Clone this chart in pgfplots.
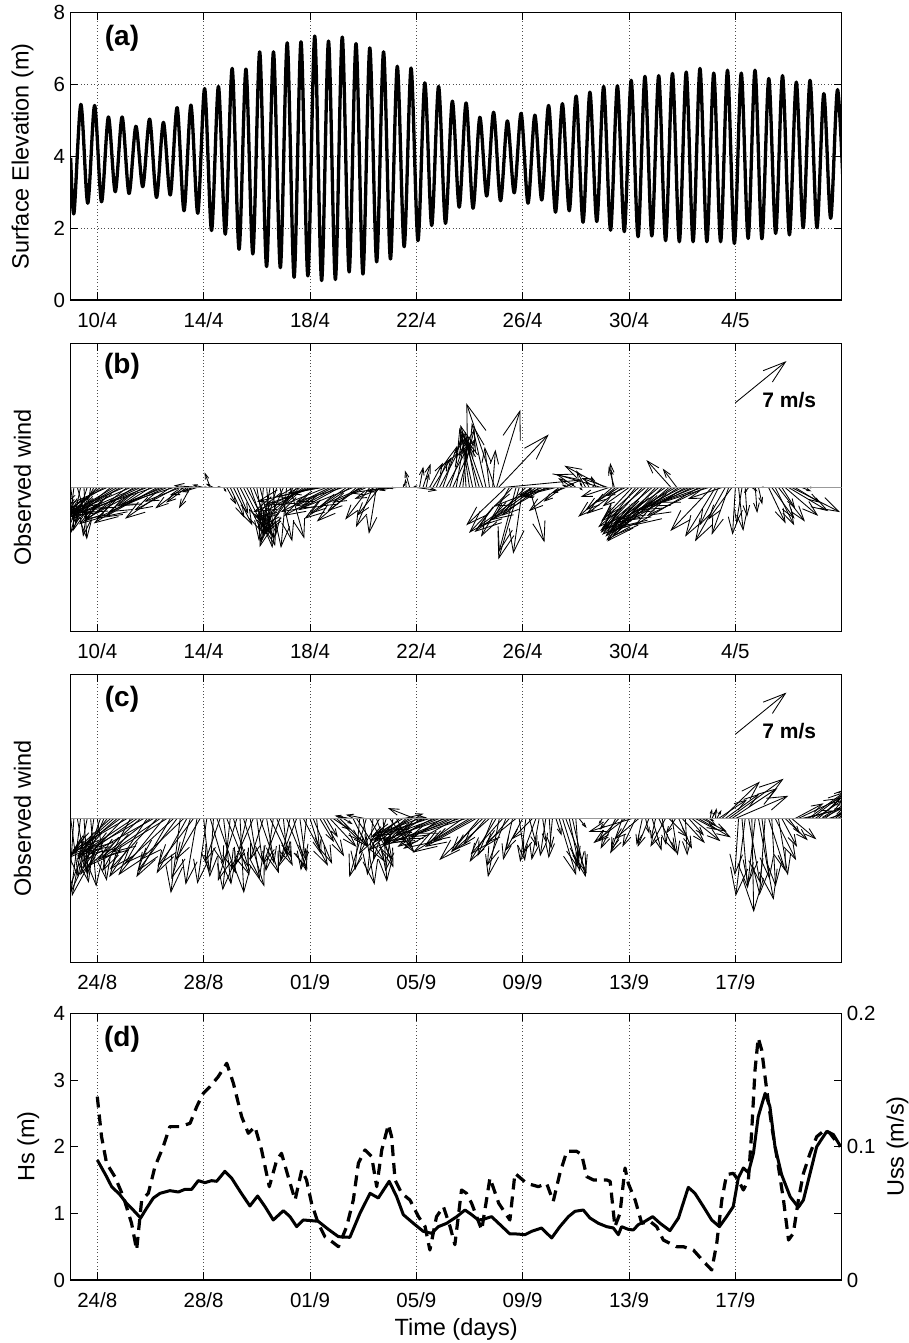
\documentclass[border=0pt]{standalone}
\usepackage{fontspec}
\setmainfont{Liberation Sans}
\usepackage{pgfplots}
\pgfplotsset{compat=1.18}
\usepackage{pgfplotstable}
\usetikzlibrary{arrows.meta}

\pgfplotsset{
  panel/.style={
    scale only axis, width=771pt,
    axis line style={line width=1.2pt},
    every tick/.style={black, line width=0.9pt},
    major tick length=7.5pt,
    tick align=inside, tick pos=both,
    xmajorgrids,
    grid style={black!70, line width=0.75pt, dash pattern=on 0.75pt off 2.6pt},
    tick label style={font=\fontsize{20.5pt}{24pt}\selectfont},
    label style={font=\fontsize{23.5pt}{28pt}\selectfont},
    xticklabel style={anchor=north, inner sep=0pt, yshift=-12pt},
  },
  leftticks/.style={yticklabel style={anchor=east, inner sep=0pt, xshift=-5.5pt}},
  aprilx/.style={xmin=9, xmax=38, xtick={10,14,18,22,26,30,34},
    xticklabels={10/4,14/4,18/4,22/4,26/4,30/4,4/5}},
  augx/.style={xmin=23, xmax=52, xtick={24,28,32,36,40,44,48},
    xticklabels={24/8,28/8,01/9,05/9,09/9,13/9,17/9}},
  windy/.style={ymin=-15.23, ymax=15.23, ytick=\empty,
    point meta min=0, point meta max=10},
  feather/.style={
    black, line width=0.85pt,
    point meta={veclen(\thisrow{u},\thisrow{v})},
    quiver={u={0.356*(\thisrow{u})}, v={\thisrow{v}},
      every arrow/.append style={-{Straight Barb[length={0.0327pt*\pgfplotspointmetatransformed}, width={0.021pt*\pgfplotspointmetatransformed}]}}},
  },
}
\tikzset{panellabel/.style={font=\bfseries\fontsize{28pt}{30pt}\selectfont, inner sep=0pt}}

\begin{document}

% tide: successive high and low waters (day of April, m)
\pgfplotstableread{
t z
9.000 3.95
9.123 2.41
9.382 5.44
9.641 2.69
9.899 5.41
10.158 2.73
10.417 5.09
10.676 3.01
10.934 5.09
11.193 2.96
11.452 4.83
11.711 3.15
11.969 5.03
12.228 2.85
12.487 4.94
12.746 2.92
13.004 5.35
13.263 2.48
13.522 5.42
13.781 2.41
14.039 5.88
14.298 1.93
14.557 5.94
14.816 1.83
15.074 6.44
15.333 1.41
15.592 6.42
15.851 1.28
16.109 6.90
16.368 0.93
16.627 6.90
16.886 0.90
17.144 7.15
17.403 0.63
17.662 7.18
17.921 0.67
18.179 7.34
18.438 0.54
18.697 7.20
18.956 0.57
19.214 7.31
19.473 0.78
19.732 7.13
19.991 0.72
20.249 7.01
20.508 1.06
20.767 6.90
21.026 1.14
21.284 6.50
21.543 1.48
21.802 6.45
22.061 1.65
22.319 6.04
22.578 2.07
22.837 5.94
23.096 2.13
23.354 5.53
23.613 2.58
23.872 5.48
24.131 2.55
24.389 5.08
24.648 2.89
24.907 5.22
25.166 2.76
25.424 4.98
25.683 2.98
25.942 5.19
26.201 2.69
26.459 5.14
26.718 2.78
26.977 5.41
27.236 2.44
27.494 5.46
27.753 2.48
28.012 5.67
28.271 2.16
28.529 5.78
28.788 2.18
29.047 5.94
29.306 1.94
29.564 5.96
29.823 1.90
30.082 6.11
30.341 1.76
30.599 6.22
30.858 1.78
31.117 6.24
31.376 1.65
31.634 6.30
31.893 1.62
32.152 6.34
32.411 1.62
32.669 6.44
32.928 1.62
33.187 6.31
33.446 1.62
33.704 6.39
33.963 1.57
34.222 6.31
34.481 1.71
34.739 6.39
34.998 1.70
35.257 6.16
35.516 1.85
35.774 6.24
36.033 1.81
36.292 6.06
36.551 2.01
36.809 6.11
37.068 2.01
37.327 5.74
37.586 2.27
37.844 5.85
38.103 2.30
}\tide

% wind, April (day, east and north components in m/s)
\pgfplotstableread{
t u v
9.00 0.5 -3.8
9.12 -0.5 -4.2
9.25 1.0 -3.5
9.37 -1.0 -4.8
9.50 0.3 -5.5
9.62 -1.5 -4.6
9.75 -0.8 -5.2
9.87 -2.0 -3.8
10.00 -3.0 -3.0
10.12 -3.5 -2.5
10.25 -4.5 -2.8
10.37 -5.0 -2.2
10.50 -4.2 -3.4
10.62 -5.0 -3.0
10.75 -3.8 -2.2
10.87 -5.5 -3.2
11.00 -6.0 -2.6
11.12 -4.5 -3.6
11.25 -6.5 -2.8
11.37 -5.8 -3.9
11.50 -6.8 -3.0
11.62 -5.2 -2.4
11.75 -6.3 -3.4
11.87 -7.0 -2.7
12.00 -6.0 -3.8
12.12 -6.6 -2.2
12.25 -5.5 -3.1
12.37 -6.8 -3.3
12.50 -5.0 -2.0
12.62 -6.2 -2.6
12.75 -4.8 -3.3
12.87 -5.6 -1.8
13.00 -4.5 -2.4
13.12 -3.8 -1.5
13.25 -3.0 -2.2
13.37 -2.2 -1.6
13.50 -1.2 -2.2
13.62 -2.5 -0.8
13.75 -1.6 -0.5
13.87 -2.8 0.2
14.00 -1.2 0.3
14.12 -0.3 0.1
14.25 -0.6 1.6
14.37 -0.8 0.4
14.50 0.4 0.1
14.62 0.1 0.0
14.75 0.3 -0.5
14.87 1.0 -1.8
15.00 1.5 -3.2
15.12 2.0 -4.0
15.25 1.2 -2.8
15.37 2.4 -4.8
15.50 1.8 -3.6
15.62 2.6 -5.0
15.75 1.5 -4.2
15.87 2.2 -5.4
16.00 0.8 -4.6
16.12 1.6 -6.2
16.25 -0.5 -5.6
16.37 0.6 -6.4
16.50 -1.0 -5.9
16.62 0.3 -5.0
16.75 -1.8 -6.3
16.87 1.3 -5.7
17.00 -2.2 -5.2
17.12 -0.6 -6.4
17.25 1.5 -5.4
17.37 -2.8 -4.6
17.50 -3.5 -5.0
17.62 -4.2 -4.2
17.75 -4.8 -3.6
17.87 -5.5 -3.2
18.00 -6.0 -2.6
18.12 -5.2 -1.9
18.25 -6.3 -1.5
18.37 -4.6 -1.0
18.50 -3.8 -0.6
18.62 -4.5 -1.8
18.75 -5.2 -2.6
18.87 -4.0 -2.0
19.00 -5.6 -3.0
19.12 -4.4 -2.4
19.25 -5.0 -1.5
19.37 -3.9 -2.8
19.50 -4.8 -3.3
19.62 -5.5 -2.2
19.75 -4.2 -3.6
19.87 -3.4 -2.5
20.00 -4.6 -2.0
20.12 -3.6 -1.6
20.25 -2.6 -3.4
20.37 -1.8 -4.2
20.50 -0.8 -4.9
20.62 -2.4 -3.0
20.75 -3.0 -1.2
20.87 -3.8 -0.6
21.00 -2.5 -0.4
21.12 -1.5 -0.3
21.25 -0.8 -0.1
21.50 0.2 0.5
21.62 -0.1 0.9
21.75 -0.5 1.8
21.87 0.5 0.2
22.00 2.2 -0.3
22.12 0.4 2.2
22.25 0.8 2.5
22.37 0.3 1.5
22.50 1.4 2.6
22.62 2.0 3.2
22.75 1.2 3.0
22.87 2.0 3.8
23.00 1.5 4.4
23.12 2.6 4.8
23.25 1.8 5.4
23.37 2.4 5.2
23.50 1.0 5.9
23.62 1.6 6.2
23.75 0.5 5.6
23.87 -0.4 6.0
24.00 -0.8 5.4
24.12 -1.4 6.3
24.25 -1.0 5.0
24.37 -2.0 6.6
24.50 -1.8 5.2
24.62 -1.5 6.8
24.75 -0.5 4.3
24.87 0.3 4.0
24.95 -3.0 8.9
25.02 2.5 8.2
25.09 5.3 5.6
25.25 8.4 0.8
25.37 -4.2 -4.0
25.50 -3.0 -5.2
25.62 -4.6 -4.8
25.75 -1.8 -6.8
25.87 -2.2 -7.6
26.00 -1.0 -7.0
26.12 -3.5 -3.4
26.25 1.6 -5.8
26.37 -5.8 -4.2
26.50 -6.5 -4.7
26.62 -4.0 -3.0
26.75 -5.2 -2.0
26.87 -6.0 -3.5
27.00 -2.8 -1.0
27.12 -3.6 -0.8
27.25 -4.0 -1.0
27.37 -3.2 -2.5
27.50 -2.0 -1.5
27.62 -1.5 -0.6
27.75 -0.8 0.3
27.87 -1.5 1.0
28.00 -0.6 0.5
28.12 0.4 -0.3
28.25 -0.3 0.6
28.37 -1.0 1.8
28.50 -0.4 0.8
28.62 0.3 0.4
28.75 -0.5 1.2
28.95 -4.8 1.4
29.10 -4.3 2.3
29.20 -2.8 1.0
29.25 -3.0 -1.0
29.37 -3.6 -3.1
29.40 -0.3 2.6
29.45 -0.6 2.2
29.50 -3.2 -2.4
29.62 -2.5 -1.6
29.75 -3.8 -2.8
29.87 -2.0 -0.9
30.00 -2.8 -2.0
30.12 -3.0 -3.2
30.25 -3.4 -4.3
30.37 -4.0 -3.6
30.50 -4.4 -4.8
30.62 -5.0 -4.2
30.75 -4.6 -5.2
30.87 -5.5 -4.6
31.00 -5.2 -5.6
31.12 -6.0 -5.0
31.25 -5.8 -5.7
31.37 -6.4 -4.4
31.50 -6.0 -5.2
31.58 -2.6 2.9
31.62 -6.8 -4.8
31.75 -6.5 -3.8
31.80 -1.5 2.0
31.87 -7.2 -4.6
32.00 -6.6 -3.4
32.12 -7.0 -4.2
32.25 -6.2 -2.8
32.37 -7.4 -3.6
32.50 -6.0 -2.4
32.62 -6.8 -4.0
32.75 -5.6 -2.0
32.87 -6.2 -3.0
33.00 -5.0 -1.6
33.12 -4.4 -4.6
33.25 -3.2 -5.2
33.37 -2.0 -4.0
33.50 -3.6 -1.2
33.62 -3.2 -5.7
33.75 -1.8 -5.0
33.87 -2.5 -3.4
34.00 -0.3 -5.0
34.12 0.5 -4.6
34.25 -0.6 -3.8
34.37 0.2 -3.1
34.50 -0.5 -0.6
34.62 0.6 -0.4
34.75 0.2 -2.7
34.87 0.4 -1.8
35.00 0.2 0.1
35.25 1.8 -3.8
35.37 2.4 -3.3
35.50 2.0 -4.0
35.62 2.8 -3.6
35.75 1.4 -2.2
35.87 3.5 -3.0
36.00 4.2 -2.5
36.12 5.1 -2.6
36.25 2.6 -1.6
36.50 1.0 -0.4
36.75 0.5 0.0
}\windApr

% wind, August--September (day counted from 1 August, m/s)
\pgfplotstableread{
t u v
23.00 0.8 -6.2
23.12 -0.5 -7.5
23.25 1.2 -6.8
23.37 -1.0 -7.8
23.50 0.4 -6.0
23.62 -1.6 -8.2
23.75 0.6 -7.2
23.87 -0.8 -5.6
24.00 1.0 -6.6
24.12 -1.8 -5.2
24.25 -2.5 -6.0
24.37 -3.2 -4.4
24.50 -4.0 -3.6
24.62 -4.8 -4.2
24.75 -3.5 -3.0
24.87 -5.2 -3.8
25.00 -4.4 -4.6
25.12 -5.8 -3.4
25.25 -3.0 -5.6
25.37 -6.0 -4.0
25.50 -4.6 -3.2
25.62 -5.4 -5.0
25.75 -6.4 -3.6
25.87 -4.0 -6.2
26.00 -5.6 -4.4
26.12 -6.8 -3.8
26.25 -5.0 -5.4
26.37 -6.2 -4.2
26.50 -4.8 -6.0
26.62 -5.8 -3.6
26.75 -3.6 -6.2
26.87 -5.2 -4.8
27.00 -4.2 -5.6
27.12 -1.0 -7.9
27.25 -4.6 -4.4
27.37 -3.2 -5.8
27.50 -2.0 -6.4
27.62 -3.8 -5.0
27.75 -1.2 -7.0
27.87 -2.6 -4.4
28.00 0.6 -5.6
28.12 -1.0 -6.9
28.25 1.4 -4.8
28.37 -0.4 -6.2
28.50 2.0 -5.8
28.62 -1.6 -4.6
28.75 0.8 -7.0
28.87 2.4 -6.0
29.00 -0.8 -7.6
29.12 1.6 -5.2
29.25 -2.0 -6.6
29.37 0.4 -7.9
29.50 2.2 -7.2
29.62 -1.2 -5.0
29.75 1.0 -6.4
29.87 -2.4 -5.4
30.00 0.6 -4.6
30.12 2.0 -5.8
30.25 -1.4 -4.4
30.37 0.8 -4.8
30.50 2.4 -5.0
30.62 -0.8 -5.6
30.75 1.6 -4.2
30.87 -1.8 -4.9
31.00 0.4 -4.0
31.12 2.2 -5.4
31.25 -1.0 -4.6
31.37 1.4 -5.6
31.50 -2.0 -5.2
31.62 0.6 -4.4
31.75 2.6 -5.0
31.87 -0.6 -5.5
32.00 1.2 -3.8
32.12 2.0 -4.8
32.25 0.3 -3.2
32.37 1.5 -2.5
32.50 2.2 -4.0
32.62 1.2 -2.0
32.75 2.8 -3.0
32.87 1.8 -1.2
33.00 2.5 -2.4
33.12 3.0 -3.0
33.25 1.0 -0.6
33.37 -0.8 0.2
33.50 -1.6 0.3
33.62 1.5 -3.0
33.75 3.0 -4.6
33.87 -0.5 -5.5
34.00 1.2 -7.0
34.06 -2.0 0.4
34.12 -1.8 -6.2
34.25 2.4 -4.4
34.37 -0.6 -6.0
34.50 1.8 -5.2
34.62 -2.2 -3.8
34.75 0.4 -6.7
34.87 -1.4 -4.4
35.00 2.6 -3.6
35.12 -0.8 -5.6
35.25 1.6 -3.0
35.37 -2.8 -2.6
35.40 2.8 0.1
35.50 -3.4 -2.0
35.56 2.0 0.5
35.62 -4.0 -3.4
35.75 -2.8 -1.6
35.87 -4.6 -2.4
35.93 -2.8 1.1
36.00 -3.6 -3.0
36.12 -5.0 -1.8
36.25 -4.2 -2.6
36.37 -5.6 -2.2
36.50 -3.8 -1.2
36.62 -5.2 -2.8
36.75 -4.4 -1.6
36.87 -6.0 -2.4
37.00 -4.8 -3.0
37.12 -5.4 -1.8
37.25 -6.2 -2.6
37.37 -4.6 -2.0
37.50 -5.6 -3.2
37.62 -6.4 -2.2
37.75 -4.0 -2.8
37.87 -5.0 -1.6
38.00 -6.0 -3.6
38.12 -4.2 -2.4
38.25 -5.4 -3.0
38.37 -3.0 -3.6
38.50 -4.6 -4.4
38.62 -2.4 -2.8
38.75 -3.8 -3.4
38.87 -1.6 -4.0
39.00 -2.8 -4.6
39.12 -1.2 -6.2
39.25 -3.4 -3.8
39.37 -2.0 -5.0
39.50 -2.6 -3.0
39.62 -1.0 -4.4
39.75 -3.2 -2.6
39.87 0.6 -4.5
40.00 -1.8 -3.4
40.12 -0.6 -4.6
40.25 0.8 -3.0
40.37 -2.2 -2.2
40.50 -1.4 -3.8
40.62 -0.8 -4.4
40.75 0.4 -2.6
40.87 -0.6 -4.0
41.00 0.2 -3.2
41.12 -0.4 -4.2
41.25 0.6 -1.8
41.37 1.8 -6.0
41.50 1.6 -5.2
41.62 2.2 -5.8
41.75 1.0 -4.8
41.87 1.4 -6.2
42.00 0.4 -5.6
42.12 0.8 -1.0
43.00 -0.4 -0.6
43.25 -1.0 -1.2
43.50 -1.6 -3.2
43.62 -2.2 -2.4
43.75 -1.2 -3.4
43.87 -3.4 -2.6
44.00 -2.0 -3.7
44.12 -4.6 -1.4
44.25 -1.4 -3.0
44.37 -2.6 -2.2
44.50 -0.6 -2.8
44.62 0.4 -1.6
44.75 -1.2 -3.0
44.87 1.0 -3.4
45.00 -0.5 -2.2
45.12 1.8 -3.6
45.25 0.4 -2.8
45.37 -1.6 -3.0
45.50 2.0 -2.0
45.62 0.6 -3.9
45.75 -1.0 -1.6
45.87 1.4 -3.2
46.00 2.4 -2.6
46.12 0.2 -3.9
46.25 1.6 -1.8
46.37 3.0 -2.4
46.50 2.2 -1.2
46.62 3.4 -2.0
46.75 2.6 -1.4
46.87 1.2 -0.8
47.00 0.6 -0.3
47.05 0.2 1.0
47.12 0.4 0.8
47.25 0.1 1.1
47.30 0.5 0.9
47.37 3.0 2.0
47.50 4.0 3.9
47.62 3.6 2.6
47.75 5.8 4.2
47.87 4.8 3.2
48.00 5.6 2.4
48.12 -0.4 -6.0
48.25 0.6 -7.4
48.37 -1.0 -8.2
48.50 1.2 -6.8
48.62 0.2 -9.9
48.75 -0.8 -7.0
48.87 1.6 -8.6
49.00 0.8 -6.4
49.12 -0.6 -8.1
49.25 1.8 -5.6
49.37 0.4 -7.2
49.50 2.2 -4.4
49.62 1.0 -6.0
49.75 1.6 -3.0
49.87 2.4 -2.3
50.00 1.2 -1.6
50.12 2.6 -2.2
50.25 3.0 1.6
50.37 4.6 2.2
50.50 3.4 0.8
50.62 5.2 1.4
50.75 3.8 2.8
50.87 4.4 3.4
51.00 3.0 2.0
51.12 4.0 3.6
51.25 2.4 1.2
51.37 3.2 2.4
51.50 2.0 0.6
51.62 3.6 2.2
51.75 2.2 1.6
51.87 3.0 2.8
}\windAug

% 7 m/s reference arrows
\pgfplotstableread{
t y u v
34 8.95 5.4 4.4
}\keyApr
\pgfplotstableread{
t y u v
48 8.90 5.4 4.4
}\keyAug

% significant wave height (m)
\pgfplotstableread{
t hs
24.00 1.80
24.35 1.55
24.54 1.40
24.85 1.28
25.10 1.15
25.35 1.05
25.63 0.93
25.86 1.08
26.11 1.23
26.36 1.30
26.73 1.34
27.05 1.32
27.30 1.36
27.55 1.36
27.80 1.49
28.05 1.46
28.30 1.49
28.49 1.48
28.80 1.63
29.05 1.53
29.37 1.33
29.74 1.11
30.03 1.26
30.31 1.10
30.62 0.90
31.00 1.04
31.25 0.95
31.50 0.80
31.75 0.90
32.06 0.89
32.31 0.88
32.69 0.76
33.07 0.65
33.50 0.64
33.88 1.00
34.26 1.30
34.57 1.23
34.98 1.48
35.26 1.25
35.51 0.98
35.89 0.85
36.26 0.73
36.58 0.70
36.83 0.80
37.14 0.85
37.52 0.95
37.83 1.05
38.08 0.98
38.33 0.90
38.52 0.91
38.83 0.95
39.15 0.83
39.52 0.69
39.77 0.69
40.09 0.68
40.34 0.73
40.71 0.78
41.09 0.63
41.40 0.80
41.72 0.95
41.97 1.03
42.28 1.05
42.53 0.93
42.85 0.85
43.16 0.80
43.41 0.78
43.60 0.68
43.72 0.80
43.97 0.76
44.16 0.75
44.35 0.83
44.60 0.88
44.89 0.95
45.17 0.85
45.54 0.74
45.86 0.93
46.23 1.39
46.48 1.30
46.80 1.10
47.11 0.90
47.40 0.80
47.67 0.95
47.92 1.10
48.11 1.53
48.30 1.68
48.49 1.61
48.68 1.90
48.86 2.45
49.12 2.80
49.30 2.60
49.49 2.00
49.74 1.58
50.06 1.25
50.37 1.09
50.56 1.20
50.81 1.60
51.06 2.00
51.44 2.23
51.69 2.18
51.96 2.00
}\hs

% surface Stokes drift (m/s)
\pgfplotstableread{
t uss
24.00 0.1375
24.16 0.1075
24.35 0.0875
24.66 0.0775
24.98 0.0625
25.29 0.0425
25.48 0.0225
25.67 0.0600
25.92 0.0650
26.17 0.0850
26.48 0.1000
26.73 0.1150
27.11 0.1150
27.49 0.1175
27.74 0.1300
27.99 0.1400
28.24 0.1450
28.55 0.1525
28.87 0.1625
29.12 0.1475
29.43 0.1225
29.68 0.1100
29.93 0.1150
30.18 0.0975
30.47 0.0700
30.75 0.0900
30.93 0.0950
31.18 0.0775
31.44 0.0600
31.69 0.0825
31.87 0.0750
32.06 0.0575
32.31 0.0425
32.56 0.0325
32.81 0.0290
33.07 0.0250
33.38 0.0400
33.63 0.0600
33.82 0.0875
34.07 0.0975
34.32 0.0925
34.51 0.0700
34.70 0.0975
34.95 0.1165
35.07 0.1075
35.20 0.0750
35.45 0.0650
35.76 0.0600
36.08 0.0475
36.33 0.0400
36.51 0.0225
36.76 0.0475
37.02 0.0550
37.27 0.0400
37.45 0.0265
37.70 0.0675
37.89 0.0650
38.08 0.0575
38.46 0.0375
38.77 0.0765
39.10 0.0575
39.52 0.0450
39.71 0.0800
40.15 0.0725
40.59 0.0700
40.90 0.0725
41.15 0.0590
41.40 0.0800
41.66 0.0965
42.03 0.0965
42.22 0.0940
42.41 0.0775
42.66 0.0750
43.16 0.0750
43.29 0.0740
43.47 0.0400
43.66 0.0500
43.85 0.0840
43.97 0.0725
44.23 0.0600
44.48 0.0425
44.79 0.0440
45.04 0.0400
45.29 0.0300
45.79 0.0250
46.04 0.0250
46.42 0.0225
46.80 0.0140
47.11 0.0075
47.30 0.0275
47.49 0.0600
47.67 0.0790
47.92 0.0800
48.11 0.0750
48.30 0.0675
48.49 0.0750
48.61 0.1100
48.74 0.1575
48.86 0.1815
48.99 0.1725
49.18 0.1425
49.37 0.1150
49.62 0.0850
49.81 0.0600
50.00 0.0300
50.18 0.0350
50.37 0.0600
50.56 0.0800
50.81 0.0950
51.06 0.1075
51.37 0.1125
51.56 0.1100
51.75 0.1050
51.94 0.1000
}\uss

\begin{tikzpicture}[x=1pt,y=1pt]
\useasboundingbox (0,0) rectangle (909,1343);

% (a) surface elevation
\begin{axis}[panel, aprilx, leftticks,
  at={(70.7pt,1043pt)}, anchor=south west, height=287.7pt,
  ymin=0, ymax=8, ytick={0,2,4,6,8}, yticklabels={0,2,4,6,8},
  ymajorgrids,
  ylabel={Surface Elevation (m)},
  ylabel style={at={(axis description cs:-0.0623,0.5)}, anchor=center},
]
\addplot[black, line width=3.3pt, smooth, line join=round] table[x=t, y=z] {\tide};
\node[panellabel] at (rel axis cs:0.0665,0.909) {(a)};
\end{axis}

% (b) wind, April
\begin{axis}[panel, aprilx, windy,
  at={(70.7pt,711.3pt)}, anchor=south west, height=288.4pt,
  ylabel={Observed wind},
  ylabel style={at={(axis description cs:-0.0625,0.5)}, anchor=center},
]
\addplot[feather] table[x=t, y expr=0] {\windApr};
\addplot[black!40, line width=0.9pt] coordinates {(9,0) (38,0)};
\addplot[feather] table[x=t, y=y] {\keyApr};
\node[font=\bfseries\fontsize{21pt}{24pt}\selectfont] at (axis cs:36.03,9.24) {7 m/s};
\node[panellabel] at (rel axis cs:0.0665,0.919) {(b)};
\end{axis}

% (c) wind, August--September
\begin{axis}[panel, augx, windy,
  at={(70.7pt,380.3pt)}, anchor=south west, height=288.4pt,
  ylabel={Observed wind},
  ylabel style={at={(axis description cs:-0.0625,0.5)}, anchor=center},
]
\addplot[feather] table[x=t, y expr=0] {\windAug};
\addplot[black!40, line width=0.9pt] coordinates {(23,0) (52,0)};
\addplot[feather] table[x=t, y=y] {\keyAug};
\node[font=\bfseries\fontsize{21pt}{24pt}\selectfont] at (axis cs:50.03,9.27) {7 m/s};
\node[panellabel] at (rel axis cs:0.0665,0.914) {(c)};
\end{axis}

% (d) wave height and Stokes drift
\begin{axis}[panel, augx, leftticks,
  at={(70.7pt,63pt)}, anchor=south west, height=266.7pt,
  ymin=0, ymax=4, ytick={0,1,2,3,4}, yticklabels={0,1,2,3,4},
  ytick pos=left,
  ylabel={Hs (m)},
  ylabel style={at={(axis description cs:-0.055,0.5)}, anchor=center},
  xlabel={Time (days)},
  xlabel style={at={(axis description cs:0.5,-0.184)}, anchor=center},
]
\addplot[black, line width=3pt, line join=round] table[x=t, y=hs] {\hs};
\node[panellabel] at (rel axis cs:0.0665,0.9025) {(d)};
\end{axis}
\begin{axis}[
  scale only axis, width=771pt, height=266.7pt,
  at={(70.7pt,63pt)}, anchor=south west,
  xmin=23, xmax=52, ymin=0, ymax=0.2,
  axis x line=none, axis y line*=right,
  axis line style={line width=1.2pt, -},
  every tick/.style={black, line width=0.9pt},
  major tick length=7.5pt, tick align=inside,
  ytick={0,0.05,0.1,0.15,0.2}, yticklabels={0,,0.1,,0.2},
  tick label style={font=\fontsize{20.5pt}{24pt}\selectfont},
  yticklabel style={anchor=west, inner sep=0pt, xshift=5pt},
  label style={font=\fontsize{23.5pt}{28pt}\selectfont},
  ylabel={Uss (m/s)},
  ylabel style={at={(axis description cs:1.0724,0.5)}, anchor=center},
]
\addplot[black, line width=3.2pt, dash pattern=on 11pt off 7pt, line join=round] table[x=t, y=uss] {\uss};
\end{axis}
\end{tikzpicture}
\end{document}
